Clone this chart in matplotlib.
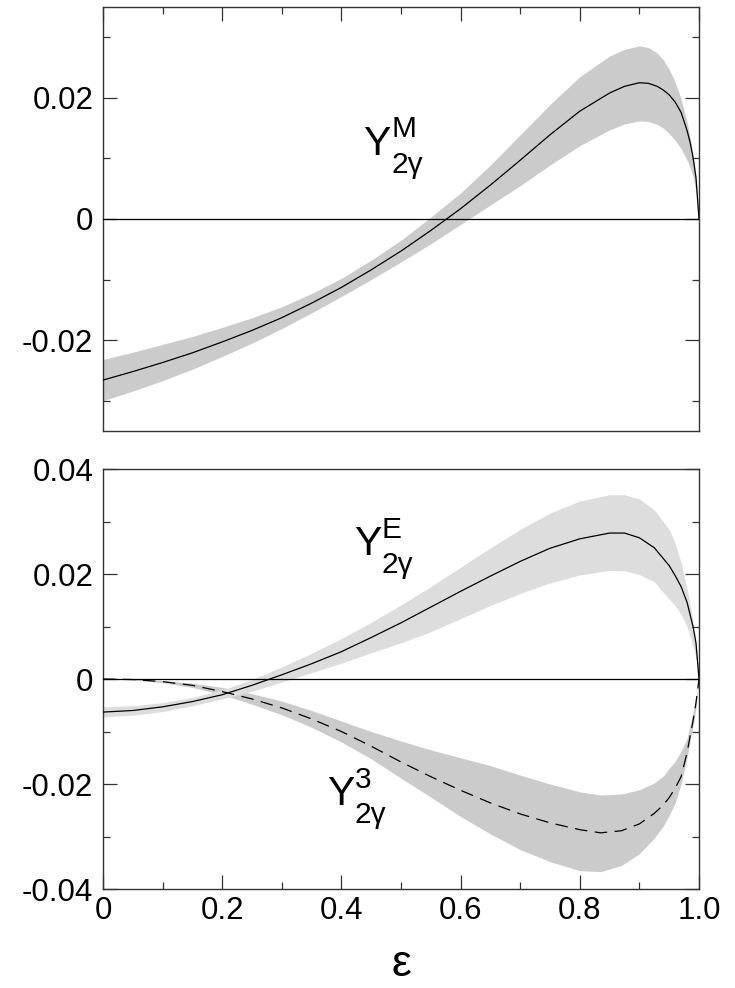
import numpy as np
import matplotlib
matplotlib.use("Agg")
import matplotlib.pyplot as plt
from matplotlib.ticker import MultipleLocator

plt.rcParams['font.family'] = ['Liberation Sans', 'DejaVu Sans']
plt.rcParams['axes.unicode_minus'] = False

# ---- upper panel: Y_2gamma^M ----
eps_m = [0.00, 0.05, 0.10, 0.15, 0.20, 0.25, 0.30, 0.35, 0.40, 0.45, 0.50,
         0.55, 0.60, 0.65, 0.70, 0.75, 0.80, 0.85, 0.875, 0.90, 0.915, 0.93,
         0.94, 0.95, 0.96, 0.97, 0.98, 0.985, 0.99, 0.995, 1.00]
ym_mid = [-0.0266, -0.0252, -0.0237, -0.0221, -0.0203, -0.0184, -0.0163,
          -0.0139, -0.0113, -0.0084, -0.0053, -0.0019, 0.0017, 0.0056,
          0.0097, 0.0139, 0.0178, 0.0208, 0.0219, 0.0225, 0.0224, 0.0219,
          0.0213, 0.0205, 0.0193, 0.0176, 0.0146, 0.0127, 0.0102, 0.0068,
          0.0]
ym_lo = [-0.0300, -0.0284, -0.0267, -0.0248, -0.0227, -0.0205, -0.0181,
         -0.0155, -0.0128, -0.0100, -0.0071, -0.0041, -0.0009, 0.0023,
         0.0055, 0.0089, 0.0121, 0.0147, 0.0157, 0.0162, 0.0161, 0.0156,
         0.0150, 0.0141, 0.0130, 0.0116, 0.0097, 0.0086, 0.0070, 0.0045,
         0.0]
ym_hi = [-0.0232, -0.0220, -0.0207, -0.0194, -0.0179, -0.0163, -0.0145,
         -0.0123, -0.0098, -0.0068, -0.0035, 0.0003, 0.0043, 0.0089,
         0.0139, 0.0189, 0.0235, 0.0269, 0.0280, 0.0286, 0.0283, 0.0274,
         0.0263, 0.0247, 0.0226, 0.0198, 0.0160, 0.0135, 0.0107, 0.0070,
         0.0]

# ---- lower panel: Y_2gamma^E (solid) and Y_2gamma^3 (dashed) ----
eps_e = [0.00, 0.05, 0.10, 0.15, 0.20, 0.25, 0.30, 0.35, 0.40, 0.45, 0.50,
         0.55, 0.60, 0.65, 0.70, 0.75, 0.80, 0.85, 0.875, 0.90, 0.925, 0.95,
         0.96, 0.97, 0.98, 0.99, 0.995, 1.00]
ye_mid = [-0.0063, -0.0060, -0.0053, -0.0043, -0.0030, -0.0012, 0.0008,
          0.0029, 0.0052, 0.0079, 0.0107, 0.0137, 0.0167, 0.0196, 0.0224,
          0.0249, 0.0267, 0.0278, 0.0278, 0.0269, 0.0250, 0.0216, 0.0197,
          0.0176, 0.0146, 0.0100, 0.0068, 0.0]
ye_lo = [-0.0072, -0.0069, -0.0062, -0.0051, -0.0038, -0.0023, -0.0006,
         0.0012, 0.0030, 0.0050, 0.0069, 0.0090, 0.0115, 0.0140, 0.0163,
         0.0183, 0.0198, 0.0207, 0.0206, 0.0199, 0.0185, 0.0152, 0.0140,
         0.0123, 0.0100, 0.0062, 0.0040, 0.0]
ye_hi = [-0.0053, -0.0051, -0.0045, -0.0035, -0.0021, -0.0001, 0.0023,
         0.0049, 0.0077, 0.0108, 0.0141, 0.0176, 0.0213, 0.0250, 0.0285,
         0.0316, 0.0339, 0.0351, 0.0351, 0.0343, 0.0322, 0.0285, 0.0258,
         0.0222, 0.0172, 0.0110, 0.0075, 0.0]

eps_3 = [0.00, 0.05, 0.10, 0.15, 0.20, 0.25, 0.30, 0.35, 0.40, 0.45, 0.50,
         0.55, 0.60, 0.65, 0.70, 0.75, 0.80, 0.835, 0.87, 0.90, 0.925, 0.94,
         0.95, 0.96, 0.97, 0.98, 0.99, 0.995, 1.00]
y3_mid = [0.0, -0.0001, -0.0005, -0.0012, -0.0024, -0.0038, -0.0055,
          -0.0076, -0.0100, -0.0128, -0.0158, -0.0186, -0.0212, -0.0236,
          -0.0257, -0.0274, -0.0287, -0.0293, -0.0289, -0.0276, -0.0256,
          -0.0240, -0.0226, -0.0208, -0.0186, -0.0140, -0.0080, -0.0045,
          0.0]
y3_lo = [0.0, -0.0002, -0.0007, -0.0016, -0.0030, -0.0048, -0.0068,
         -0.0092, -0.0120, -0.0152, -0.0189, -0.0225, -0.0262, -0.0295,
         -0.0325, -0.0348, -0.0365, -0.0367, -0.0355, -0.0333, -0.0303,
         -0.0280, -0.0260, -0.0236, -0.0200, -0.0150, -0.0088, -0.0055,
         0.0]
y3_hi = [0.0, 0.0000, -0.0003, -0.0008, -0.0016, -0.0028, -0.0042,
         -0.0060, -0.0080, -0.0100, -0.0118, -0.0135, -0.0150, -0.0165,
         -0.0183, -0.0200, -0.0215, -0.0221, -0.0219, -0.0211, -0.0198,
         -0.0185, -0.0170, -0.0157, -0.0137, -0.0113, -0.0062, -0.0040,
         0.0]

xticks = [0, 0.2, 0.4, 0.6, 0.8, 1.0]
xlabels = ['0', '0.2', '0.4', '0.6', '0.8', '1.0']
top_yticks = [-0.02, 0, 0.02]
top_ylabels = ['-0.02', '0', '0.02']
bot_yticks = [-0.04, -0.02, 0, 0.02, 0.04]
bot_ylabels = ['-0.04', '-0.02', '0', '0.02', '0.04']

fig = plt.figure(figsize=(7.35, 9.88), dpi=100)
ax1 = fig.add_axes([0.1401, 0.5638, 0.8109, 0.4291])
ax2 = fig.add_axes([0.1401, 0.1002, 0.8109, 0.4251])

spine_c = '#333333'
for ax in (ax1, ax2):
    for s in ax.spines.values():
        s.set_color(spine_c)
        s.set_linewidth(1.0)
    ax.set_xlim(0, 1)
    ax.axhline(0, color='black', lw=0.9, zorder=3)
    ax.xaxis.set_minor_locator(MultipleLocator(0.1))
    ax.yaxis.set_minor_locator(MultipleLocator(0.01))
    ax.tick_params(which='major', direction='in', length=10, width=0.9,
                   color=spine_c, labelsize=22.5, pad=7)
    ax.tick_params(which='minor', direction='in', length=5, width=0.9,
                   color=spine_c)
    ax.tick_params(which='both', left=True, right=True)

# upper panel
ax1.fill_between(eps_m, ym_lo, ym_hi, color='#cbcbcb', lw=0, zorder=1)
ax1.plot(eps_m, ym_mid, color='black', lw=0.9, zorder=4)
ax1.set_ylim(-0.035, 0.035)
ax1.set_xticks(xticks)
ax1.set_yticks(top_yticks)
ax1.set_yticklabels(top_ylabels)
ax1.tick_params(which='both', top=True, bottom=False, labelbottom=False)

# lower panel
ax2.fill_between(eps_3, y3_lo, y3_hi, color='#cbcbcb', lw=0, zorder=1)
ax2.fill_between(eps_e, ye_lo, ye_hi, color='#dddddd', lw=0, zorder=1)
ax2.plot(eps_e, ye_mid, color='black', lw=0.9, zorder=4)
ax2.plot(eps_3, y3_mid, color='black', lw=0.9, ls=(0, (10, 6)), zorder=4)
ax2.set_ylim(-0.04, 0.04)
ax2.set_xticks(xticks)
ax2.set_xticklabels(xlabels)
ax2.set_yticks(bot_yticks)
ax2.set_yticklabels(bot_ylabels)
ax2.tick_params(which='both', top=False, bottom=True)
ax2.tick_params(axis='x', pad=5)


def curve_label(ax, x, y, sup):
    ax.text(x, y, 'Y', fontsize=29.5, ha='left', va='baseline', zorder=5)
    ax.annotate(sup, (x, y), xytext=(20, 12.5), textcoords='offset points',
                fontsize=21.5, ha='left', va='baseline', zorder=5)
    ax.annotate('2γ', (x, y), xytext=(20, -13), textcoords='offset points',
                fontsize=21.5, ha='left', va='baseline', zorder=5)


curve_label(ax1, 0.437, 0.0106, 'M')
curve_label(ax2, 0.421, 0.0236, 'E')
curve_label(ax2, 0.376, -0.0240, '3')

fig.text(0.5456, 0.012, 'ε', fontsize=32, ha='center', va='baseline')

fig.savefig('out.png', dpi=100)
